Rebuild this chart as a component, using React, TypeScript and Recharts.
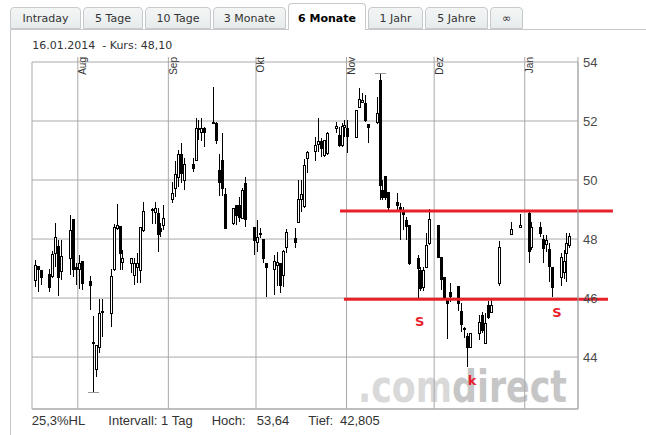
import React from "react"
import { Bar, CartesianGrid, ComposedChart, ReferenceDot, ReferenceLine, XAxis, YAxis } from "recharts"

// trading days, OHLC
const dates = [
  "2013-07-17", "2013-07-18", "2013-07-19",
  "2013-07-22", "2013-07-23", "2013-07-24", "2013-07-25", "2013-07-26",
  "2013-07-29", "2013-07-30", "2013-07-31", "2013-08-01", "2013-08-02",
  "2013-08-05", "2013-08-06", "2013-08-07", "2013-08-08", "2013-08-09",
  "2013-08-12", "2013-08-13", "2013-08-14", "2013-08-15", "2013-08-16",
  "2013-08-19", "2013-08-20", "2013-08-21", "2013-08-22", "2013-08-23",
  "2013-08-26", "2013-08-27", "2013-08-28", "2013-08-29", "2013-08-30",
  "2013-09-02", "2013-09-03", "2013-09-04", "2013-09-05", "2013-09-06",
  "2013-09-09", "2013-09-10", "2013-09-11", "2013-09-12", "2013-09-13",
  "2013-09-16", "2013-09-17", "2013-09-18", "2013-09-19", "2013-09-20",
  "2013-09-23", "2013-09-24", "2013-09-25", "2013-09-26", "2013-09-27",
  "2013-09-30", "2013-10-01", "2013-10-02", "2013-10-03", "2013-10-04",
  "2013-10-07", "2013-10-08", "2013-10-09", "2013-10-10", "2013-10-11",
  "2013-10-14", "2013-10-15", "2013-10-16", "2013-10-17", "2013-10-18",
  "2013-10-21", "2013-10-22", "2013-10-23", "2013-10-24", "2013-10-25",
  "2013-10-28", "2013-10-29", "2013-10-30", "2013-10-31", "2013-11-01",
  "2013-11-04", "2013-11-05", "2013-11-06", "2013-11-07", "2013-11-08",
  "2013-11-11", "2013-11-12", "2013-11-13", "2013-11-14", "2013-11-15",
  "2013-11-18", "2013-11-19", "2013-11-20", "2013-11-21", "2013-11-22",
  "2013-11-25", "2013-11-26", "2013-11-27", "2013-11-28", "2013-11-29",
  "2013-12-02", "2013-12-03", "2013-12-04", "2013-12-05", "2013-12-06",
  "2013-12-09", "2013-12-10", "2013-12-11", "2013-12-12", "2013-12-13",
  "2013-12-16", "2013-12-17", "2013-12-18", "2013-12-19", "2013-12-20",
  "2013-12-23", "2013-12-27", "2013-12-30",
  "2014-01-02", "2014-01-03",
  "2014-01-06", "2014-01-07", "2014-01-08", "2014-01-09", "2014-01-10",
  "2014-01-13", "2014-01-14", "2014-01-15", "2014-01-16",
]

const opens = [
  46.61, 47.08, 46.95,
  46.8, 46.75, 47.53, 47.76, 46.92,
  47.36, 48.68, 47.05, 47.0, 47.25,
  46.58, 44.52, 43.59, 44.34, 45.5,
  45.49, 46.98, 48.37, 48.44, 47.22,
  47.19, 46.78, 47.05, 46.95, 48.3,
  49.0, 48.93, 48.88, 48.37, 48.47,
  49.36, 49.73, 50.1, 50.88, 50.0,
  50.54, 50.68, 51.76, 51.63, 51.76,
  51.93, 51.93, 50.34, 50.68, 49.53,
  48.54, 49.15, 49.15, 48.71, 49.9,
  48.41, 47.9, 48.2, 48.0, 47.19,
  46.98, 47.12, 47.19, 46.78, 47.73,
  48.03, 48.58, 49.36, 49.12, 50.75,
  50.98, 51.22, 51.32, 50.85, 50.92,
  51.76, 51.53, 51.19, 51.8, 51.76,
  51.46, 52.47, 52.64, 52.61, 51.9,
  51.97, 53.39, 49.66, 50.14, 49.6,
  49.25, 49.08, 48.95, 48.64, 48.47,
  47.36, 46.95, 46.37, 47.05, 47.87,
  48.47, 47.39, 46.71, 45.93, 46.2,
  46.4, 45.56, 44.98, 44.71, 44.34,
  44.81, 45.42, 44.47, 45.76, 45.53,
  46.51, 48.17, 48.41,
  48.88, 47.73,
  48.41, 48.0, 47.83, 47.66, 47.05,
  46.71, 46.88, 47.53, 47.8,
]

const highs = [
  47.29, 47.1, 46.95,
  46.98, 47.6, 48.54, 47.97, 47.97,
  48.81, 48.68, 47.19, 47.46, 47.25,
  46.75, 45.4, 44.41, 45.97, 45.97,
  46.98, 48.5, 49.19, 48.44, 47.63,
  47.36, 47.36, 47.53, 48.41, 49.25,
  49.05, 49.25, 49.05, 48.54, 49.15,
  49.93, 50.64, 51.02, 51.25, 50.75,
  50.75, 52.1, 52.03, 52.1, 51.8,
  53.15, 51.97, 50.88, 51.6, 49.73,
  49.05, 49.15, 49.42, 49.73, 50.1,
  48.41, 48.64, 48.37, 48.0, 47.19,
  47.46, 47.56, 47.19, 47.63, 48.34,
  48.37, 50.0, 50.0, 50.71, 50.98,
  51.46, 52.1, 51.42, 51.36, 51.63,
  51.97, 51.8, 51.93, 52.03, 52.03,
  52.37, 53.12, 52.95, 52.88, 51.9,
  52.81, 53.64, 50.0, 50.14, 49.6,
  49.56, 49.22, 49.08, 48.75, 48.47,
  47.46, 47.05, 47.05, 48.2, 49.02,
  48.47, 47.39, 46.71, 45.93, 46.5,
  46.4, 45.83, 45.02, 44.81, 44.81,
  45.42, 45.53, 45.49, 45.9, 45.93,
  47.93, 48.58, 48.85,
  48.95, 48.58,
  48.58, 48.14, 48.14, 47.86, 47.05,
  47.53, 47.63, 48.2, 48.2,
]

const lows = [
  46.37, 46.2, 46.44,
  46.2, 46.68, 47.05, 46.07, 46.61,
  46.78, 46.71, 46.44, 46.3, 46.27,
  45.59, 42.805, 43.32, 44.14, 44.68,
  45.02, 46.9, 48.3, 46.95, 46.95,
  46.85, 46.44, 46.5, 46.5, 48.24,
  48.5, 48.5, 47.56, 48.07, 48.3,
  49.22, 49.42, 49.76, 49.9, 49.66,
  50.27, 50.64, 51.36, 51.32, 51.12,
  51.9, 51.22, 49.46, 49.46, 48.37,
  48.47, 48.47, 48.58, 48.71, 48.41,
  47.46, 47.56, 48.03, 47.19, 46.03,
  46.1, 46.4, 46.17, 46.37, 47.53,
  47.7, 48.54, 48.92, 49.05, 50.24,
  50.64, 50.95, 50.78, 50.78, 50.85,
  51.6, 51.12, 51.12, 51.46, 50.92,
  51.46, 52.47, 52.61, 51.97, 51.25,
  51.9, 49.32, 49.32, 49.32, 48.98,
  48.98, 47.97, 48.3, 47.97, 47.12,
  46.0, 46.24, 46.24, 47.02, 47.8,
  47.39, 46.27, 45.93, 44.61, 45.86,
  45.56, 44.85, 44.64, 43.66, 44.34,
  44.58, 44.81, 44.47, 45.3, 45.53,
  46.41, 48.14, 48.37,
  47.19, 47.63,
  48.07, 47.19, 47.56, 46.54, 46.03,
  46.41, 46.64, 46.54, 47.7,
]

const closes = [
  47.12, 46.98, 46.7,
  46.37, 47.5, 48.07, 46.71, 47.42,
  48.3, 46.98, 46.98, 47.19, 46.51,
  46.44, 44.49, 44.41, 45.49, 45.55,
  46.75, 48.41, 48.47, 47.53, 47.36,
  47.36, 47.19, 47.19, 48.41, 48.95,
  49.02, 49.05, 48.17, 48.27, 48.71,
  49.56, 50.2, 50.88, 50.24, 50.54,
  50.41, 51.76, 51.73, 51.76, 51.63,
  51.97, 51.36, 49.93, 49.73, 48.37,
  49.05, 48.81, 48.75, 49.66, 48.68,
  47.97, 48.07, 48.17, 47.36, 47.05,
  47.25, 47.22, 46.44, 47.6, 48.24,
  47.9, 49.36, 49.53, 50.51, 50.95,
  51.19, 51.32, 51.08, 51.36, 51.6,
  51.83, 51.19, 51.83, 51.86, 51.49,
  52.37, 52.74, 52.71, 52.03, 51.8,
  52.27, 49.83, 49.42, 49.42, 49.08,
  49.15, 49.02, 48.85, 48.44, 47.19,
  47.02, 46.34, 46.95, 47.8, 48.68,
  47.39, 46.64, 46.03, 45.83, 46.07,
  45.83, 45.12, 44.95, 44.34, 44.81,
  45.19, 44.92, 45.15, 45.36, 45.76,
  47.73, 48.34, 48.47,
  47.59, 48.41,
  48.2, 47.7, 47.97, 47.08, 46.37,
  47.39, 47.25, 47.86, 48.1,
]

const monthStarts = ["2013-08-01", "2013-09-01", "2013-10-01", "2013-11-01", "2013-12-01", "2014-01-01"]
const monthLabels = ["Aug", "Sep", "Okt", "Nov", "Dez", "Jan"]
const priceTicks = [44, 46, 48, 50, 52, 54]

// support / resistance drawn on the chart (days counted from 1 Aug 2013)
const levelValues = [48.95, 45.96]
const levelFrom = [89.75, 91.1]
const levelTo = [183.2, 181.5]

const markTexts = ["S", "k", "S"]
const markDates = ["2013-11-26", "2013-12-14", "2014-01-12"]
const markValues = [45.19, 43.2, 45.5]

const tabs = ["Intraday", "5 Tage", "10 Tage", "3 Monate", "6 Monate", "1 Jahr", "5 Jahre", "∞"]
const tabEdges = [10, 83, 145, 213, 288, 368, 425, 490, 523]
const activeTab = "6 Monate"

const DAY0 = Date.UTC(2013, 7, 1)
const toDay = (iso: string) => (Date.parse(iso) - DAY0) / 86400000

const X_MIN = -15.68
const X_MAX = 171.24
const Y_MIN = 42.24
const Y_MAX = 54

const maxHigh = Math.max(...highs)
const minLow = Math.min(...lows)

const data = dates.map((d, i) => ({
  t: toDay(d) + 0.35,
  open: opens[i],
  high: highs[i],
  low: lows[i],
  close: closes[i],
}))

const monthDays = monthStarts.map(toDay)
const RED = "#e8202a"
const GRID = "#a9a9a9"

function Candle(props: any) {
  const { x, y, width, height, payload } = props
  if (x == null || !payload) return null
  const cx = Math.round(x + width / 2)
  const span = payload.high - payload.low
  const k = span > 0 ? height / span : 0
  const yO = y + (payload.high - payload.open) * k
  const yC = y + (payload.high - payload.close) * k
  const up = payload.close >= payload.open
  const top = Math.round(Math.min(yO, yC))
  const bh = Math.max(Math.round(Math.abs(yO - yC)), 1)
  return (
    <g shapeRendering="crispEdges">
      <line x1={cx + 0.5} x2={cx + 0.5} y1={y} y2={y + height} stroke="#000" />
      {up ? (
        <rect x={cx - 0.5} y={top + 0.5} width={2} height={bh} fill="#fff" stroke="#000" />
      ) : (
        <rect x={cx - 1} y={top} width={3} height={bh + 1} fill="#000" />
      )}
      {payload.high === maxHigh && (
        <line x1={cx - 5} x2={cx + 6} y1={Math.round(y) + 0.5} y2={Math.round(y) + 0.5} stroke="#999" />
      )}
      {payload.low === minLow && (
        <line x1={cx - 5} x2={cx + 6} y1={Math.round(y + height) + 0.5} y2={Math.round(y + height) + 0.5} stroke="#999" />
      )}
    </g>
  )
}

function MonthTick(props: any) {
  const { x, payload } = props
  const i = monthDays.indexOf(payload.value)
  if (i < 0) return null
  return (
    <text
      transform={`translate(${x + 8.5},57) rotate(-90)`}
      textAnchor="end"
      fontFamily="'Liberation Sans', Arial, sans-serif"
      fontSize={10}
      fill="#333"
    >
      {monthLabels[i]}
    </text>
  )
}

function MarkLabel(text: string) {
  return (p: any) => (
    <text
      x={p.cx}
      y={p.cy}
      textAnchor="middle"
      dominantBaseline="central"
      fontFamily="'DejaVu Sans', Verdana, sans-serif"
      fontWeight="bold"
      fontSize={13}
      fill={RED}
    >
      {text}
    </text>
  )
}

export default function App() {
  return (
    <div style={{ position: "relative", width: 646, height: 435, background: "#fff", overflow: "hidden" }}>
      <style>{"body{margin:0}"}</style>
      {/* panel, texts and watermark behind the chart */}
      <svg width={646} height={435} style={{ position: "absolute", left: 0, top: 0 }}>
        <line x1={10.5} x2={10.5} y1={29.5} y2={435} stroke="#c8c8c8" />
        <line x1={10} x2={646} y1={29.5} y2={29.5} stroke="#c8c8c8" />
        <text x={32.3} y={49.3} fontFamily="'DejaVu Sans', Verdana, sans-serif" fontSize={11} fill="#333">
          {"16.01.2014\u00a0 - Kurs: 48,10"}
        </text>
        <text
          x={358}
          y={402}
          fontFamily="'DejaVu Sans', sans-serif"
          fontWeight="bold"
          fontSize={45}
          textLength={209}
          lengthAdjust="spacingAndGlyphs"
        >
          <tspan fill="#d9d9d9">.com</tspan>
          <tspan fill="#c6c6c6">direct</tspan>
        </text>
        <g fontFamily="'Liberation Sans', Arial, sans-serif" fontSize={13} fill="#333">
          <text x={31.7} y={425}>25,3%HL</text>
          <text x={108.3} y={425}>Intervall: 1 Tag</text>
          <text x={211.7} y={425}>Hoch:</text>
          <text x={256.7} y={425}>53,64</text>
          <text x={308.3} y={425}>Tief:</text>
          <text x={340} y={425}>42,805</text>
        </g>
      </svg>

      {tabs.map((label, i) => {
        const active = label === activeTab
        return (
          <div
            key={label}
            style={{
              position: "absolute",
              left: tabEdges[i],
              top: active ? 3 : 7,
              width: tabEdges[i + 1] - tabEdges[i] - (i < tabs.length - 1 ? 2 : 0),
              height: active ? 27 : 22,
              boxSizing: "border-box",
              border: "1px solid #c6cacc",
              borderBottom: active ? "none" : "1px solid #c6cacc",
              borderRadius: "4px 4px 0 0",
              background: active ? "#fff" : "linear-gradient(#f4f6f6, #e7ebeb)",
              display: "flex",
              alignItems: "center",
              justifyContent: "center",
              paddingTop: active ? 3 : 0,
              fontFamily: "'DejaVu Sans', Verdana, sans-serif",
              fontSize: 11,
              fontWeight: active ? "bold" : "normal",
              color: active ? "#000" : "#333",
              zIndex: 2,
            }}
          >
            {label}
          </div>
        )
      })}

      <div style={{ position: "absolute", left: 0, top: 0, zIndex: 1 }}>
        <ComposedChart width={646} height={435} data={data} margin={{ top: 57, right: 0, bottom: 26, left: 32 }}>
          <CartesianGrid stroke={GRID} />
          <XAxis
            xAxisId={0}
            type="number"
            dataKey="t"
            orientation="top"
            domain={[X_MIN, X_MAX]}
            ticks={[...monthDays, X_MAX]}
            allowDataOverflow
            height={5}
            tickSize={5}
            axisLine={false}
            tickLine={{ stroke: GRID }}
            tick={<MonthTick />}
            interval={0}
          />
          <YAxis
            yAxisId={0}
            orientation="right"
            domain={[Y_MIN, Y_MAX]}
            ticks={priceTicks}
            allowDataOverflow
            width={68}
            tickLine={false}
            tickSize={0}
            tickMargin={5}
            axisLine={{ stroke: GRID }}
            tick={{ fontFamily: "'Liberation Sans', Arial, sans-serif", fontSize: 13, fill: "#4a4a4a" }}
          />
          <ReferenceLine y={Y_MIN} stroke={GRID} />
          <Bar
            dataKey={(d: any) => [d.low, d.high]}
            barSize={3}
            shape={<Candle />}
            isAnimationActive={false}
          />
          {levelValues.map((v, i) => (
            <ReferenceLine
              key={`lvl${i}`}
              segment={[
                { x: levelFrom[i], y: v },
                { x: levelTo[i], y: v },
              ]}
              stroke={RED}
              strokeWidth={3}
              ifOverflow="visible"
            />
          ))}
          {markTexts.map((m, i) => (
            <ReferenceDot
              key={`mk${i}`}
              x={toDay(markDates[i])}
              y={markValues[i]}
              r={0}
              shape={MarkLabel(m)}
            />
          ))}
        </ComposedChart>
      </div>
    </div>
  )
}
